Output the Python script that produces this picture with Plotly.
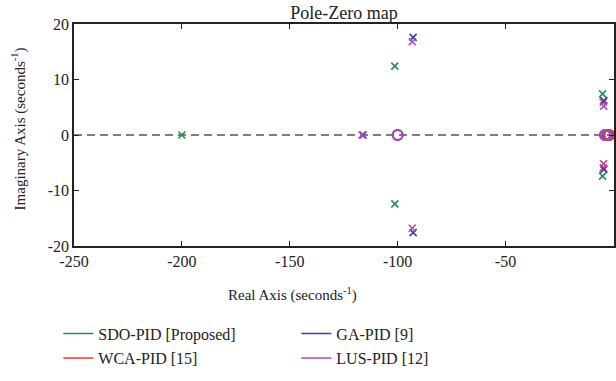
import plotly.graph_objects as go

# ---- data ----
names = ["SDO-PID [Proposed]", "GA-PID [9]", "WCA-PID [15]", "LUS-PID [12]"]
colors = ["#1f9150", "#3242b0", "#ff3030", "#b048b8"]

# poles (real, imag)
sdo_poles_re = [-200.0, -101.3, -101.3, -5.0, -5.0]
sdo_poles_im = [0.0, 12.4, -12.4, 7.4, -7.4]
ga_poles_re = [-116.0, -92.8, -92.8, -4.4, -4.4]
ga_poles_im = [0.0, 17.6, -17.6, 6.2, -6.2]
wca_poles_re = [-4.7, -4.7]
wca_poles_im = [5.9, -5.9]
lus_poles_re = [-116.5, -93.2, -93.2, -4.5, -4.5]
lus_poles_im = [0.0, 16.8, -16.8, 5.2, -5.2]

# zeros (real, imag)
sdo_zeros_re = [-3.0]
sdo_zeros_im = [0.0]
ga_zeros_re = [-100.0, -3.2, -3.8]
ga_zeros_im = [0.0, 0.0, 0.0]
wca_zeros_re = [-1.8, -2.4]
wca_zeros_im = [0.0, 0.0]
lus_zeros_re = [-100.0, -3.3, -3.9, -3.6]
lus_zeros_im = [0.0, 0.0, 0.0, 0.0]

x_ticks = [-250, -200, -150, -100, -50, 0]
x_tick_text = ["-250", "-200", "-150", "-100", "-50", "0"]
y_ticks = [-20, -10, 0, 10, 20]
y_tick_text = ["-20", "-10", "0", "10", "20"]

poles = [(sdo_poles_re, sdo_poles_im), (ga_poles_re, ga_poles_im),
         (wca_poles_re, wca_poles_im), (lus_poles_re, lus_poles_im)]
zeros = [(sdo_zeros_re, sdo_zeros_im), (ga_zeros_re, ga_zeros_im),
         (wca_zeros_re, wca_zeros_im), (lus_zeros_re, lus_zeros_im)]

FONT = "Liberation Serif"
TXT = "#222222"

fig = go.Figure()

# legend entries (lines only); two legends = two rows
legend_ref = ["legend", "legend", "legend2", "legend2"]
for n, c, lg in zip(names, colors, legend_ref):
    fig.add_trace(go.Scatter(x=[None], y=[None], mode="lines", name=n,
                             line=dict(color=c, width=1.5), showlegend=True,
                             legend=lg))

for i in [2, 0, 1, 3]:
    zr, zi = zeros[i]
    fig.add_trace(go.Scatter(x=zr, y=zi, mode="markers", showlegend=False,
                             marker=dict(symbol="circle-open", size=10, color=colors[i],
                                         line=dict(color=colors[i], width=2)),
                             hoverinfo="skip"))
for i in [0, 2, 1, 3]:
    pr, pi = poles[i]
    fig.add_trace(go.Scatter(x=pr, y=pi, mode="markers", showlegend=False,
                             marker=dict(symbol="x-thin-open", size=7, color=colors[i],
                                         line=dict(color=colors[i], width=1.6)),
                             hoverinfo="skip"))

axis_common = dict(showline=True, linecolor=TXT, linewidth=1.5,
                   mirror="ticks", ticks="inside", ticklen=5, tickwidth=1,
                   tickcolor=TXT, showgrid=False, zeroline=False,
                   tickfont=dict(family=FONT, size=16, color=TXT))

legend_common = dict(orientation="h", xanchor="left", yanchor="top",
                     entrywidth=193, entrywidthmode="pixels",
                     font=dict(family=FONT, size=16, color=TXT),
                     bgcolor="rgba(0,0,0,0)", borderwidth=0)

fig.update_layout(
    width=616, height=381,
    margin=dict(l=74, r=0, t=24, b=135),
    paper_bgcolor="white", plot_bgcolor="white",
    font=dict(family=FONT, size=16, color=TXT),
    title=dict(text="Pole-Zero map", x=0.5, xref="paper", xanchor="center",
               y=1, yref="paper", yanchor="bottom", pad=dict(b=5),
               font=dict(family=FONT, size=18, color=TXT)),
    xaxis=dict(range=[-250, 0.3], tickvals=x_ticks, ticktext=x_tick_text,
               **axis_common),
    yaxis=dict(range=[-20, 20], tickvals=y_ticks, ticktext=y_tick_text,
               **axis_common),
    legend=dict(x=-0.029, y=-0.318, **legend_common),
    legend2=dict(x=-0.029, y=-0.428, **legend_common),
    annotations=[
        dict(text="Real Axis (seconds<sup>-1</sup>)", xref="paper", yref="paper",
             x=0.404, y=-0.22, xanchor="center", yanchor="middle", showarrow=False,
             font=dict(family=FONT, size=15, color=TXT)),
        dict(text="Imaginary Axis (seconds<sup>-1</sup>)", xref="paper", yref="paper",
             x=-0.103, y=0.527, xanchor="center", yanchor="middle", showarrow=False,
             textangle=-90, font=dict(family=FONT, size=15, color=TXT)),
    ],
    shapes=[dict(type="line", xref="paper", x0=0, x1=1, yref="y", y0=0, y1=0,
                 line=dict(color="#555555", width=1.5, dash="8px,5px"), layer="below")],
)

fig.write_html("out.html")
